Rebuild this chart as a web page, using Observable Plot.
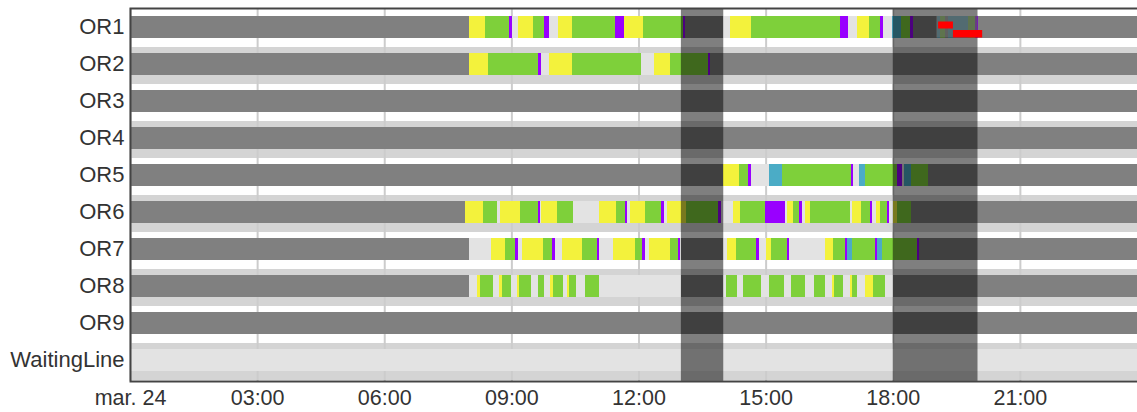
<!DOCTYPE html>
<html>
<head>
<meta charset="utf-8">
<script src="https://cdn.jsdelivr.net/npm/d3@7"></script>
<script src="https://cdn.jsdelivr.net/npm/@observablehq/plot@0.6"></script>
<style>
  html, body { margin: 0; padding: 0; background: #fff; overflow: hidden; }
  #chart svg { overflow: hidden !important; }
</style>
</head>
<body>
<div id="chart"></div>
<script>
// ---- data ----
const rows = ["OR1","OR2","OR3","OR4","OR5","OR6","OR7","OR8","OR9","WaitingLine"];
const tickHours = [0, 3, 6, 9, 12, 15, 18, 21];
const tickLabels = ["mar. 24","03:00","06:00","09:00","12:00","15:00","18:00","21:00"];

// status codes
const statusCodes  = ["C","I","Y","G","P","B"];
const statusNames  = ["closed","idle","setup","surgery","turnover","transfer"];
const statusColors = ["#808080","#e3e3e3","#f3f23c","#7ed03a","#9900ff","#4bacc6"];

// segments per row: [start hour, end hour, status code]
const segOR1 = [
  [0,8.0,"C"],[8.0,8.37,"Y"],[8.37,8.94,"G"],[8.94,9.02,"P"],[9.02,9.16,"I"],[9.16,9.51,"Y"],
  [9.51,9.77,"G"],[9.77,9.89,"P"],[9.89,10.1,"I"],[10.1,10.44,"Y"],[10.44,11.45,"G"],[11.45,11.65,"P"],
  [11.65,12.1,"Y"],[12.1,13.05,"G"],[13.05,13.1,"P"],[13.1,14.0,"C"],[14.0,14.15,"I"],[14.15,14.65,"Y"],
  [14.65,16.75,"G"],[16.75,16.95,"P"],[16.95,17.15,"I"],[17.15,17.45,"Y"],[17.45,17.69,"G"],[17.69,17.77,"P"],
  [17.77,17.98,"I"],[17.98,18.2,"B"],[18.2,18.4,"G"],[18.4,18.47,"P"],[18.47,19.05,"C"],[19.05,19.12,"B"],
  [19.12,19.24,"G"],[19.24,19.3,"C"],[19.3,19.77,"B"],[19.77,19.95,"G"],[19.95,20.0,"P"],[20.0,24,"C"]
];
const segOR2 = [
  [0,8.0,"C"],[8.0,8.45,"Y"],[8.45,9.63,"G"],[9.63,9.7,"P"],[9.7,9.88,"I"],[9.88,10.43,"Y"],
  [10.43,12.07,"G"],[12.07,12.37,"I"],[12.37,12.75,"Y"],[12.75,13.63,"G"],[13.63,13.69,"P"],[13.69,24,"C"]
];
const segOR3 = [[0,24,"C"]];
const segOR4 = [[0,24,"C"]];
const segOR5 = [
  [0,14.0,"C"],[14.0,14.38,"Y"],[14.38,14.59,"G"],[14.59,14.65,"P"],[14.65,15.07,"I"],[15.07,15.39,"B"],
  [15.39,17.02,"G"],[17.02,17.07,"P"],[17.07,17.2,"I"],[17.2,17.35,"B"],[17.35,18.09,"G"],[18.09,18.21,"P"],
  [18.21,18.27,"I"],[18.27,18.43,"B"],[18.43,18.83,"G"],[18.83,24,"C"]
];
const segOR6 = [
  [0,7.91,"C"],[7.91,8.33,"Y"],[8.33,8.66,"G"],[8.66,8.73,"I"],[8.73,9.21,"Y"],[9.21,9.62,"G"],
  [9.62,9.67,"P"],[9.67,9.71,"I"],[9.71,10.08,"Y"],[10.08,10.45,"G"],[10.45,11.07,"I"],[11.07,11.47,"Y"],
  [11.47,11.69,"G"],[11.69,11.73,"P"],[11.73,11.81,"I"],[11.81,12.15,"Y"],[12.15,12.52,"G"],[12.52,12.6,"P"],
  [12.6,12.68,"I"],[12.68,13.12,"Y"],[13.12,13.88,"G"],[13.88,13.95,"P"],[13.95,14.22,"I"],[14.22,14.4,"Y"],
  [14.4,14.99,"G"],[14.99,15.45,"P"],[15.45,15.5,"I"],[15.5,15.65,"Y"],[15.65,15.79,"G"],[15.79,15.85,"P"],
  [15.85,15.92,"I"],[15.92,16.04,"Y"],[16.04,16.99,"G"],[16.99,17.05,"I"],[17.05,17.24,"Y"],[17.24,17.47,"G"],
  [17.47,17.5,"P"],[17.5,17.6,"I"],[17.6,17.69,"Y"],[17.69,17.86,"G"],[17.86,17.92,"P"],[17.92,18.0,"I"],
  [18.0,18.09,"Y"],[18.09,18.43,"G"],[18.43,24,"C"]
];
const segOR7 = [
  [0,8.0,"C"],[8.0,8.52,"I"],[8.52,8.85,"Y"],[8.85,9.09,"G"],[9.09,9.16,"P"],[9.16,9.24,"I"],
  [9.24,9.74,"Y"],[9.74,9.96,"G"],[9.96,10.03,"P"],[10.03,10.19,"I"],[10.19,10.67,"Y"],[10.67,11.01,"G"],
  [11.01,11.07,"P"],[11.07,11.39,"I"],[11.39,11.91,"Y"],[11.91,12.09,"G"],[12.09,12.15,"P"],[12.15,12.24,"I"],
  [12.24,12.74,"Y"],[12.74,12.94,"G"],[12.94,12.98,"P"],[12.98,13.0,"I"],[13.0,14.0,"C"],[14.0,14.08,"I"],
  [14.08,14.29,"Y"],[14.29,14.77,"G"],[14.77,14.84,"P"],[14.84,15.01,"I"],[15.01,15.13,"Y"],[15.13,15.5,"G"],
  [15.5,15.56,"P"],[15.56,16.39,"I"],[16.39,16.59,"Y"],[16.59,16.88,"G"],[16.88,16.93,"P"],[16.93,17.05,"B"],
  [17.05,17.57,"G"],[17.57,17.62,"P"],[17.62,17.75,"B"],[17.75,18.58,"G"],[18.58,18.63,"P"],[18.63,24,"C"]
];
const segOR8 = [
  [0,8.0,"C"],[8.0,8.18,"I"],[8.18,8.26,"Y"],[8.26,8.56,"G"],[8.56,8.71,"I"],[8.71,8.77,"Y"],
  [8.77,8.98,"G"],[8.98,9.14,"I"],[9.14,9.19,"Y"],[9.19,9.47,"G"],[9.47,9.62,"I"],[9.62,9.76,"G"],
  [9.76,9.91,"I"],[9.91,9.99,"Y"],[9.99,10.21,"G"],[10.21,10.31,"I"],[10.31,10.37,"Y"],[10.37,10.52,"G"],
  [10.52,10.73,"I"],[10.73,11.07,"G"],[11.07,13.0,"I"],[13.0,14.0,"C"],[14.0,14.07,"I"],[14.07,14.33,"G"],
  [14.33,14.47,"I"],[14.47,14.89,"G"],[14.89,15.08,"I"],[15.08,15.44,"G"],[15.44,15.61,"I"],[15.61,15.94,"G"],
  [15.94,16.14,"I"],[16.14,16.4,"G"],[16.4,16.56,"I"],[16.56,16.62,"Y"],[16.62,16.83,"G"],[16.83,16.98,"I"],
  [16.98,17.03,"Y"],[17.03,17.16,"G"],[17.16,17.34,"I"],[17.34,17.53,"Y"],[17.53,17.81,"G"],[17.81,18.0,"I"],
  [18.0,24,"C"]
];
const segOR9 = [[0,24,"C"]];
const segWaitingLine = [[0,24,"I"]];

// blocked periods (dark overlays), pending interval and alert markers on OR1
const blocked = [[13, 14], [18, 20]];
const pendingOR1 = [[19.03, 20.0]];
const alertUpperOR1 = [[19.07, 19.42]];
const alertLowerOR1 = [[19.42, 20.11]];

// ---- build table ----
const segByRow = [segOR1, segOR2, segOR3, segOR4, segOR5, segOR6, segOR7, segOR8, segOR9, segWaitingLine];
const segments = [];
rows.forEach((r, i) => {
  for (const [s, e, c] of segByRow[i]) {
    segments.push({row: r, start: s, end: e, status: statusNames[statusCodes.indexOf(c)]});
  }
});
const stripedRows = rows.filter((r, i) => i % 2 === 1);

const barInset = {insetTop: 5.5, insetBottom: 9.5};

const chart = Plot.plot({
  width: 1137,
  height: 412,
  marginLeft: 130,
  marginRight: -10,
  marginTop: 8,
  marginBottom: 31,
  style: {fontFamily: "'Liberation Sans', Arial, sans-serif", color: "#333", background: "white"},
  x: {domain: [0, 24], axis: null},
  y: {domain: rows, padding: 0, axis: null},
  color: {domain: statusNames, range: statusColors},
  marks: [
    Plot.cell(stripedRows, {y: d => d, fill: "#d4d4d4"}),
    Plot.ruleX(tickHours, {stroke: "#cccccc", strokeWidth: 2}),
    Plot.barX(segments, {y: "row", x1: "start", x2: "end", fill: "status", shapeRendering: "crispEdges", ...barInset}),
    Plot.rect(blocked, {x1: d => d[0], x2: d => d[1], fill: "black", fillOpacity: 0.5}),
    Plot.barX(pendingOR1, {y: () => "OR1", x1: d => d[0], x2: d => d[1], fill: "#808080", fillOpacity: 0.5, ...barInset}),
    Plot.barX(alertUpperOR1, {y: () => "OR1", x1: d => d[0], x2: d => d[1], fill: "red", insetTop: 11.5, insetBottom: 18.5}),
    Plot.barX(alertLowerOR1, {y: () => "OR1", x1: d => d[0], x2: d => d[1], fill: "red", insetTop: 20, insetBottom: 9.5}),
    Plot.frame({stroke: "#444", strokeWidth: 2}),
    Plot.axisX({ticks: tickHours, tickFormat: d => tickLabels[tickHours.indexOf(d)], tickSize: 0, tickPadding: 8, fontSize: 21.5, label: null}),
    Plot.axisY({tickSize: 0, tickPadding: 6, fontSize: 22, label: null, dy: -2.5})
  ]
});
document.getElementById("chart").appendChild(chart);
</script>
</body>
</html>
